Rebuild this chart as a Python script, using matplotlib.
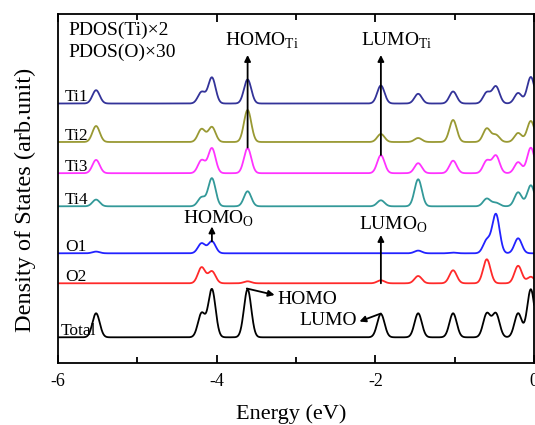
import numpy as np
import matplotlib
matplotlib.use('Agg')
import matplotlib.pyplot as plt

plt.rcParams['font.family'] = ['Liberation Serif', 'DejaVu Serif']
plt.rcParams['mathtext.fontset'] = 'custom'
plt.rcParams['mathtext.rm'] = 'Liberation Serif'

# peak energies (eV)
peak_e = [-5.52, -4.19, -4.06, -3.61, -1.93, -1.46, -1.02, -0.595, -0.48, -0.20, -0.04]

# peak heights for each curve (arb. unit), same order as peak_e
ti1 = [13.3, 11.5, 26.0, 24.0, 18.0, 9.7, 12.0, 11.0, 17.0, 10.5, 26.5]
ti2 = [16.0, 13.0, 15.0, 32.0, 8.0, 4.0, 22.0, 13.5, 7.0, 9.0, 21.0]
ti3 = [13.3, 13.0, 25.0, 25.0, 18.0, 10.0, 12.5, 12.5, 17.5, 11.0, 25.5]
ti4 = [6.7, 9.0, 28.0, 15.0, 6.0, 27.0, 0.0, 7.7, 3.5, 14.0, 21.0]
o1 = [1.7, 10.0, 12.0, 0.0, 0.0, 2.7, 0.7, 13.0, 39.0, 15.0, 0.0]
o2 = [0.0, 16.0, 12.0, 2.0, 3.0, 7.3, 13.0, 24.0, 0.0, 17.5, 6.5]
total = [24.0, 24.0, 48.0, 48.0, 23.3, 24.0, 24.0, 23.5, 23.5, 24.0, 48.0]

names = ['Ti1', 'Ti2', 'Ti3', 'Ti4', 'O1', 'O2', 'Total']
series = [ti1, ti2, ti3, ti4, o1, o2, total]
offsets = [259.5, 221.0, 189.8, 156.7, 109.7, 79.7, 25.7]
colors = ['#333399', '#999933', '#ff33ff', '#339999', '#2222ff', '#ff2a2a', 'black']

sigma = 0.046
E = np.linspace(-6, 0.1, 3000)

def dos(heights):
    y = np.zeros_like(E)
    for e0, h in zip(peak_e, heights):
        y += h * np.exp(-(E - e0) ** 2 / (2 * sigma ** 2))
    return y

fig = plt.figure(figsize=(5.35, 4.25), dpi=100)
ax = fig.add_axes([58/535, 62/425, 476/535, 349/425])

for name, h, off, c in zip(names, series, offsets, colors):
    ax.plot(E, dos(h) + off, color=c, lw=1.3)
    xl = -5.97 if name == 'Total' else -5.91
    ax.text(xl, off + 2.5, name, fontsize=12.5, va='baseline', ha='left')

ax.text(-5.87, 332.5, 'PDOS(Ti)×2', fontsize=14, va='center')
ax.text(-5.87, 310.5, 'PDOS(O)×30', fontsize=14, va='center')

arr = dict(arrowstyle='-|>', color='k', lw=1.3, mutation_scale=9, shrinkA=0, shrinkB=0)

# vertical HOMO/LUMO markers
ax.annotate('', xy=(-3.61, 308), xytext=(-3.61, 215.5), arrowprops=arr, zorder=5)
ax.annotate('', xy=(-1.93, 308), xytext=(-1.93, 208), arrowprops=arr, zorder=5)
ax.annotate('', xy=(-4.06, 136.5), xytext=(-4.06, 121.5), arrowprops=arr, zorder=5)
ax.annotate('', xy=(-1.93, 128), xytext=(-1.93, 79.7), arrowprops=arr, zorder=5)

ax.text(-3.90, 322, r'HOMO$_{\rm Ti}$', fontsize=14, va='center')
ax.text(-2.18, 322, r'LUMO$_{\rm Ti}$', fontsize=14, va='center')
ax.text(-4.43, 144, r'HOMO$_{\rm O}$', fontsize=14, va='center')
ax.text(-2.20, 138.5, r'LUMO$_{\rm O}$', fontsize=14, va='center')

# total HOMO / LUMO
ax.annotate('', xy=(-3.27, 68), xytext=(-3.62, 74.5), arrowprops=arr)
ax.text(-3.23, 63.5, 'HOMO', fontsize=14, va='center')
ax.annotate('', xy=(-2.20, 41.5), xytext=(-1.93, 49.5), arrowprops=arr)
ax.text(-2.96, 42.5, 'LUMO', fontsize=14, va='center')

ax.set_xlim(-6, 0)
ax.set_ylim(0, 349)
ax.set_xticks([-6, -4, -2, 0])
ax.set_xticklabels(['-6', '-4', '-2', '0'])
ax.set_xticks([-5, -3, -1], minor=True)
ax.set_yticks([])
ax.tick_params(axis='x', which='both', direction='in', top=True, labelsize=13, width=1.3, pad=7)
ax.tick_params(axis='x', which='major', length=6)
ax.tick_params(axis='x', which='minor', length=4)
for s in ax.spines.values():
    s.set_linewidth(1.3)

ax.set_xlabel('Energy (eV)', fontsize=16)
ax.set_ylabel('Density of States (arb.unit)', fontsize=17.5)
ax.xaxis.set_label_coords(0.489, -0.118)
ax.yaxis.set_label_coords(-0.046, 0.466)

fig.savefig('out.png', dpi=100)
